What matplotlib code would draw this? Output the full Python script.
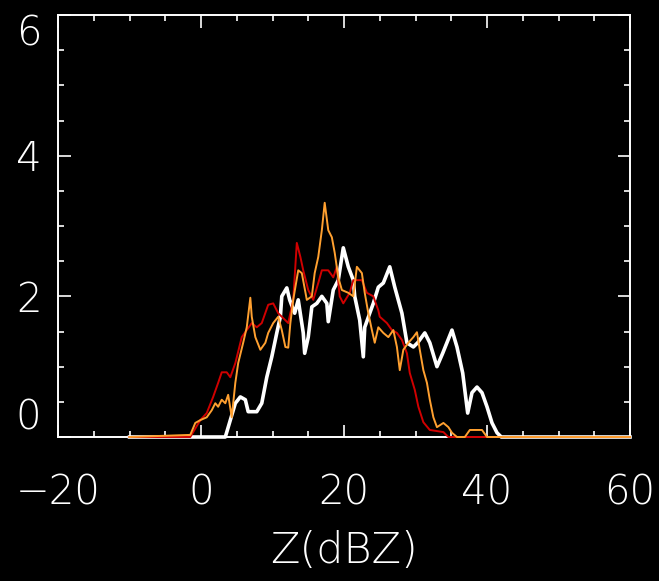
import matplotlib
matplotlib.use("Agg")
import matplotlib.pyplot as plt
from matplotlib.ticker import MultipleLocator

# Reflectivity histograms (x in dBZ, y in %)
white_x = [-10, 3.4, 4.1, 4.8, 5.5, 6.2, 6.6, 7.8, 8.5, 9.2, 9.9, 10.6, 11.1, 11.3, 12.0,
           12.4, 13.1, 13.6, 14.3, 14.5, 15.0, 15.5, 16.2, 16.9, 17.6, 17.8, 18.5, 19.2,
           19.9, 20.6, 21.3, 21.5, 22.2, 22.7, 22.9, 23.6, 24.1, 24.8, 25.5, 26.4, 27.1,
           28.1, 28.8, 29.7, 30.3, 31.3, 32.0, 33.0, 33.8, 35.1, 35.8, 36.6, 37.3, 37.9,
           38.6, 39.3, 40.0, 40.7, 41.4, 42.0, 60]
white_y = [0, 0, 0.24, 0.48, 0.57, 0.53, 0.36, 0.36, 0.48, 0.85, 1.14, 1.48, 1.71, 2.0, 2.12,
           1.95, 1.76, 1.95, 1.48, 1.19, 1.42, 1.85, 1.9, 2.0, 1.9, 1.64, 2.09, 2.23,
           2.69, 2.42, 2.23, 2.0, 1.66, 1.14, 1.56, 1.76, 1.9, 2.13, 2.19, 2.42, 2.13,
           1.76, 1.34, 1.28, 1.34, 1.48, 1.34, 1.0, 1.19, 1.52, 1.28, 0.91, 0.34, 0.63,
           0.71, 0.63, 0.43, 0.2, 0.06, 0, 0]

red_x = [-10, -1.5, -0.1, 0.8, 1.7, 2.4, 2.9, 3.6, 4.1, 4.8, 5.7, 6.4, 7.1, 7.8, 8.5, 9.4,
         10.1, 10.8, 11.5, 12.2, 12.9, 13.4, 13.9, 14.3, 15.0, 15.7, 16.4, 16.9, 17.8,
         18.5, 19.0, 19.4, 19.9, 20.8, 21.3, 22.5, 23.2, 24.1, 24.8, 25.0, 26.0, 26.7,
         27.4, 28.1, 28.8, 29.2, 29.9, 30.4, 31.1, 32.0, 33.9, 34.6, 60]
red_y = [0, 0, 0.24, 0.34, 0.57, 0.77, 0.92, 0.92, 0.85, 1.05, 1.42, 1.52, 1.62, 1.56, 1.62,
         1.88, 1.9, 1.76, 1.69, 1.62, 1.95, 2.76, 2.56, 2.37, 2.09, 1.95, 2.19, 2.37, 2.37,
         2.27, 2.42, 2.0, 1.9, 2.05, 2.23, 2.23, 2.05, 2.0, 1.8, 1.71, 1.62, 1.52, 1.48,
         1.38, 1.19, 0.91, 0.67, 0.43, 0.21, 0.1, 0.07, 0, 0]

orange_x = [-10, -1.5, -0.8, -0.1, 0.8, 1.5, 2.0, 2.4, 2.9, 3.4, 3.8, 4.3, 4.8, 5.2, 5.9,
            6.4, 6.9, 7.1, 7.6, 8.3, 9.0, 9.4, 10.1, 10.8, 11.3, 11.8, 12.2, 12.5, 12.9,
            13.6, 14.1, 14.8, 15.5, 15.9, 16.4, 16.9, 17.3, 17.8, 18.3, 18.7, 19.2, 19.7,
            20.6, 21.3, 21.8, 22.5, 22.9, 23.4, 23.9, 24.3, 24.8, 25.5, 26.2, 26.9, 27.4,
            27.8, 28.3, 29.0, 29.7, 30.2, 30.6, 31.1, 31.6, 32.0, 32.5, 33.0, 33.9, 34.6,
            35.1, 35.8, 36.9, 37.6, 39.3, 40.0, 60]
orange_y = [0, 0.03, 0.2, 0.24, 0.28, 0.38, 0.48, 0.43, 0.53, 0.48, 0.6, 0.28, 0.77, 1.05,
            1.34, 1.56, 1.98, 1.71, 1.42, 1.24, 1.34, 1.48, 1.62, 1.71, 1.52, 1.28, 1.27,
            1.62, 1.95, 2.37, 2.33, 1.95, 2.0, 2.33, 2.56, 2.94, 3.33, 2.94, 2.84, 2.62,
            2.27, 2.09, 2.05, 2.0, 2.42, 2.33, 2.05, 1.76, 1.52, 1.34, 1.56, 1.48, 1.42,
            1.52, 1.28, 0.95, 1.24, 1.34, 1.42, 1.49, 1.24, 0.95, 0.77, 0.53, 0.28, 0.14,
            0.2, 0.14, 0.06, 0, 0, 0.1, 0.1, 0, 0]

xticks = [-20, 0, 20, 40, 60]
yticks = [0, 2, 4, 6]
xlabel = "Z(dBZ)"

fig = plt.figure(figsize=(6.59, 5.81), dpi=100, facecolor="black")
ax = fig.add_axes([58 / 659, 1 - 437 / 581, 572 / 659, 422 / 581], facecolor="black")

ax.plot(white_x, white_y, color="white", lw=2.6, clip_on=False, zorder=3)
ax.plot(red_x, red_y, color="#d00000", lw=1.4, clip_on=False, zorder=4)
ax.plot(orange_x, orange_y, color="#ffa030", lw=1.4, clip_on=False, zorder=5)

ax.set_xlim(-20, 60)
ax.set_ylim(0, 6)
ax.set_xticks(xticks)
ax.set_yticks(yticks)
ax.xaxis.set_minor_locator(MultipleLocator(5))
ax.yaxis.set_minor_locator(MultipleLocator(0.5))

for s in ax.spines.values():
    s.set_color("white")
    s.set_linewidth(1.4)

font = dict(family="DejaVu Sans", weight="ultralight", size=29, color="white")
label_font = dict(family="DejaVu Sans", weight="ultralight", size=31, color="white")
ax.tick_params(which="both", direction="in", top=True, right=True, colors="white", width=1.2)
ax.tick_params(which="major", length=9)
ax.tick_params(which="minor", length=4.5)
ax.tick_params(axis="x", which="major", pad=26)
ax.tick_params(axis="y", which="major", pad=12)
ax.set_xticklabels([f"{v}".replace("-", "\u2212") for v in xticks], fontdict=font)
ax.set_yticklabels([str(v) for v in yticks], fontdict=font)
ylabels = ax.get_yticklabels()
ylabels[0].set_va("bottom")
ylabels[-1].set_va("top")

ax.set_xlabel(xlabel, fontdict=label_font, labelpad=13)

fig.savefig("out.png", dpi=100, facecolor="black")
